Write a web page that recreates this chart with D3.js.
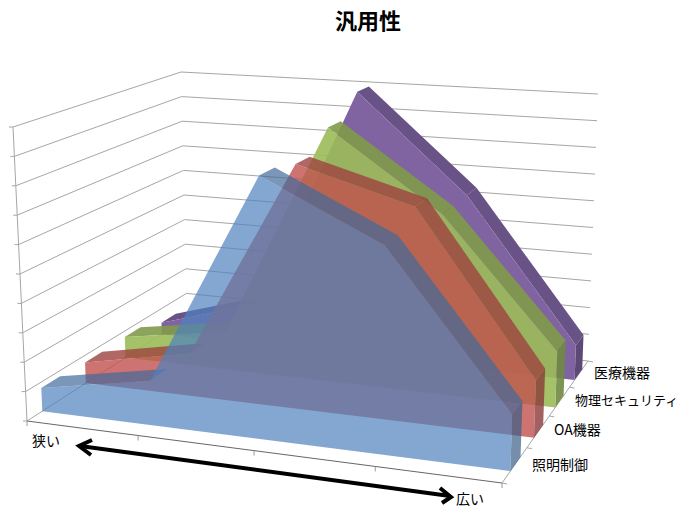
<!DOCTYPE html>
<html>
<head>
<meta charset="utf-8">
<script src="https://cdn.jsdelivr.net/npm/d3@7"></script>
<style>
  body { margin: 0; background: #fff; }
  text { font-family: "Noto Sans CJK JP", sans-serif; fill: #000; }
</style>
</head>
<body>
<div id="chart"></div>
<script>
const title = "汎用性";
const categories = ["c1", "c2", "c3", "c4", "c5"];
const seriesNames = ["照明制御", "OA機器", "物理セキュリティ", "医療機器"];
const lighting = [0.8, 1.5, 8.75, 6.8, 1.8];
const office = [0.75, 1.5, 8.5, 7.35, 1.9];
const security = [0.78, 1.4, 9.2, 6.4, 1.95];
const medical = [0.45, 1.6, 10, 6.4, 1.26];
const seriesValues = [lighting, office, security, medical];
const valueTicks = d3.range(0, 11);

const colors = ["#4F81BD", "#C0504D", "#9BBB59", "#8064A2"];
const alphas = [0.7, 0.8, 0.9, 1];

const width = 686, height = 527;
const svg = d3.select("#chart").append("svg")
  .attr("width", width).attr("height", height);

// corners of the box as seen on the page
const floorQuad = [[27, 421], [502, 483], [588, 361], [187, 318]];
const topQuad = [[13, 127], [512, 163], [598, 94], [181, 72]];

function homography(q) {
  const [[x0, y0], [x1, y1], [x2, y2], [x3, y3]] = q;
  const dx1 = x1 - x2, dx2 = x3 - x2, sx = x0 - x1 + x2 - x3;
  const dy1 = y1 - y2, dy2 = y3 - y2, sy = y0 - y1 + y2 - y3;
  const den = dx1 * dy2 - dx2 * dy1;
  const g = (sx * dy2 - dx2 * sy) / den;
  const h = (dx1 * sy - sx * dy1) / den;
  return (u, v) => {
    const w = g * u + h * v + 1;
    return [
      ((x1 - x0 + g * x1) * u + (x3 - x0 + h * x3) * v + x0) / w,
      ((y1 - y0 + g * y1) * u + (y3 - y0 + h * y3) * v + y0) / w
    ];
  };
}
const onFloor = homography(floorQuad);
const onTop = homography(topQuad);

const xScale = d3.scalePoint().domain(categories).range([0, 1]);
const depthScale = d3.scaleBand().domain(seriesNames).range([0, 1])
  .paddingInner(0.58).paddingOuter(0.33);
const zScale = d3.scaleLinear().domain([0, 10]).range([0, 1]);

function project(u, v, value) {
  const a = onFloor(u, v), b = onTop(u, v), t = zScale(value);
  return [a[0] + (b[0] - a[0]) * t, a[1] + (b[1] - a[1]) * t];
}

const line = d3.line();
const closed = pts => line(pts) + "Z";

// walls
const grid = svg.append("g").attr("fill", "none").attr("stroke", "#a6a6a6").attr("stroke-width", 1);
valueTicks.forEach(t => {
  grid.append("path").attr("d", line([project(0, 0, t), project(0, 1, t), project(1, 1, t)]));
  const p = project(0, 0, t);
  grid.append("path").attr("d", line([[p[0] - 4, p[1]], p]));
});
grid.append("path").attr("d", line([project(0, 0, 0), project(0, 0, 10)]));
grid.append("path").attr("d", line([project(1, 0, 0), project(1, 1, 0)]));
seriesNames.concat(["end"]).forEach((s, i) => {
  const p = project(1, i / 4, 0);
  grid.append("path").attr("d", line([p, [p[0] + 5, p[1] + 1]]));
});

// series, back one first
d3.range(seriesNames.length - 1, -1, -1).forEach(i => {
  const name = seriesNames[i], values = seriesValues[i];
  const vf = depthScale(name), vb = vf + depthScale.bandwidth();
  const base = d3.color(colors[i]);
  const g = svg.append("g").attr("fill-opacity", alphas[i]);
  const topColor = base.darker(0.55).formatHex();
  const sideColor = base.darker(0.9).formatHex();

  categories.slice(0, -1).forEach((c, k) => {
    const u0 = xScale(c), u1 = xScale(categories[k + 1]);
    const quad = [
      project(u0, vf, values[k]), project(u1, vf, values[k + 1]),
      project(u1, vb, values[k + 1]), project(u0, vb, values[k])
    ];
    // only the faces turned toward the viewer
    if (d3.polygonArea(quad) > 0) {
      g.append("path").attr("d", closed(quad)).attr("fill", topColor);
    }
  });

  const last = values[values.length - 1];
  g.append("path").attr("fill", sideColor).attr("d", closed([
    project(1, vf, 0), project(1, vf, last), project(1, vb, last), project(1, vb, 0)
  ]));

  const front = categories.map((c, k) => project(xScale(c), vf, values[k]));
  g.append("path").attr("fill", colors[i]).attr("d", closed(
    [project(0, vf, 0)].concat(front, [project(1, vf, 0)])
  ));
});

// floor front edge
const edge = svg.append("g").attr("fill", "none").attr("stroke", "#666").attr("stroke-width", 1);
edge.append("path").attr("d", line([project(0, 0, 0), project(1, 0, 0)]));
[0, 0.25, 0.5, 0.75, 1].forEach(u => {
  const p = project(u, 0, 0);
  edge.append("path").attr("stroke", "#999").attr("d", line([p, [p[0], p[1] + 5]]));
});

// labels
svg.append("text").attr("x", 368).attr("y", 29).attr("text-anchor", "middle")
  .attr("font-size", 22).attr("font-weight", "bold").text(title);

const labelPos = [[532, 470], [554, 435], [575, 405], [594, 378]];
seriesNames.forEach((s, i) => {
  svg.append("text").attr("x", labelPos[i][0]).attr("y", labelPos[i][1])
    .attr("font-size", s.length > 4 ? 13 : 14).text(s);
});
svg.append("text").attr("x", 32).attr("y", 446).attr("font-size", 14).text("狭い");
svg.append("text").attr("x", 456).attr("y", 504).attr("font-size", 14).text("広い");

// double arrow
const arrow = svg.append("g").attr("fill", "none").attr("stroke", "#000")
  .attr("stroke-width", 4).attr("stroke-linejoin", "miter");
arrow.append("path").attr("d", line([[80, 446], [450, 496]]));
arrow.append("path").attr("d", line([[92, 440], [79, 446], [91, 455]]));
arrow.append("path").attr("d", line([[440, 488], [451, 497], [442, 503]]));
</script>
</body>
</html>
